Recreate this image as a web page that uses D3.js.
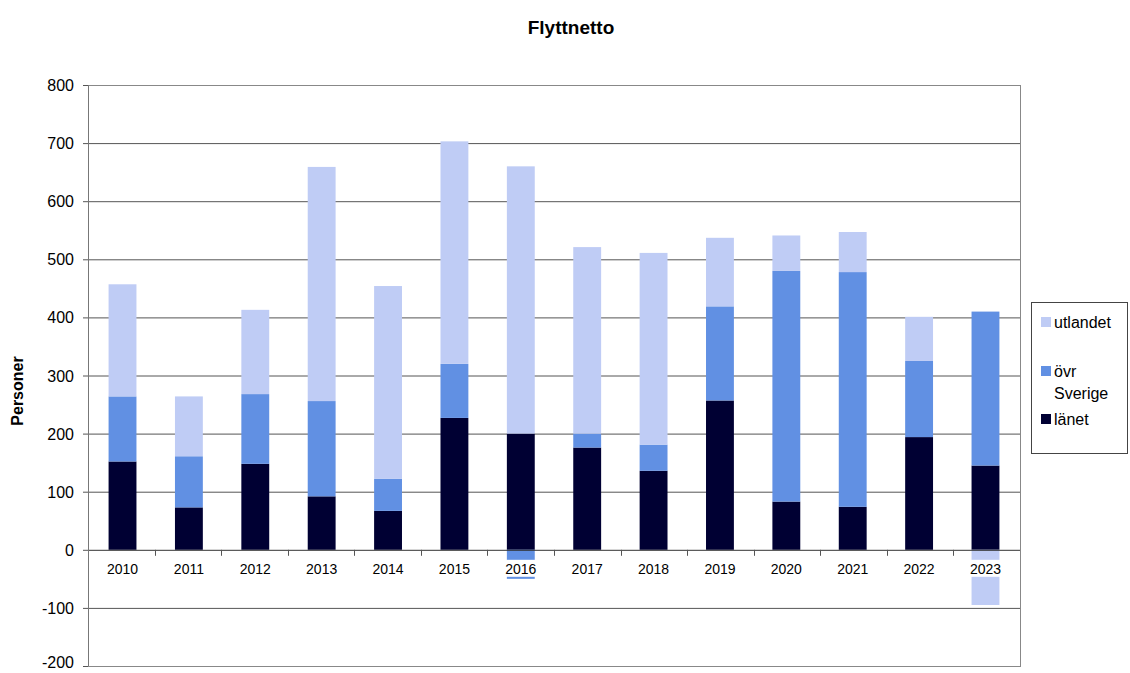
<!DOCTYPE html>
<html><head><meta charset="utf-8">
<script src="https://cdn.jsdelivr.net/npm/d3@7"></script>
<style>body{margin:0;background:#fff;} text{font-family:"Liberation Sans",Arial,sans-serif;}</style>
</head><body>
<svg id="c" width="1130" height="673"></svg>
<script>
const years = ["2010","2011","2012","2013","2014","2015","2016","2017","2018","2019","2020","2021","2022","2023"];
const lanet = [152, 73, 148, 92, 67, 227, 200, 176, 136, 257, 83, 74, 194, 145];
const ovrSverige = [112, 88, 120, 164, 55, 93, -50, 24, 45, 162, 397, 404, 131, 265];
const utlandet = [193, 103, 145, 403, 332, 383, 460, 321, 330, 118, 61, 69, 76, -95];
const yTicks = [-200, -100, 0, 100, 200, 300, 400, 500, 600, 700, 800];
const seriesNames = ["länet", "övr Sverige", "utlandet"];
const colors = {"länet":"#000033", "övr Sverige":"#6190E3", "utlandet":"#BFCCF5"};

const svg = d3.select("#c");
const L = 88, R = 1020, T = 85, B = 666;
const x = d3.scaleBand().domain(years).range([L, R]).paddingInner(0.58).paddingOuter(0.31);
const y = d3.scaleLinear().domain([-200, 800]).range([B, T]);

// gridlines
svg.append("g").selectAll("line").data(yTicks.filter(t => t !== -200 && t !== 0)).join("line")
  .attr("x1", L).attr("x2", R).attr("y1", d => y(d) + 0.5).attr("y2", d => y(d) + 0.5)
  .attr("stroke", "#555").attr("stroke-width", 1);

// plot border
svg.append("rect").attr("x", L + 0.5).attr("y", y(800) + 0.5).attr("width", R - L).attr("height", B - y(800))
  .attr("fill", "none").attr("stroke", "#888").attr("stroke-width", 1);

// stacked data with pos/neg stacking
const data = years.map((yr, i) => ({year: yr, "länet": lanet[i], "övr Sverige": ovrSverige[i], "utlandet": utlandet[i]}));
const stack = d3.stack().keys(seriesNames).offset(d3.stackOffsetDiverging);
const stacked = stack(data);

svg.append("g").selectAll("g").data(stacked).join("g")
  .attr("fill", d => colors[d.key])
  .selectAll("rect").data(d => d).join("rect")
  .attr("x", d => x(d.data.year))
  .attr("width", x.bandwidth())
  .attr("y", d => y(Math.max(d[0], d[1])))
  .attr("height", d => Math.abs(y(d[0]) - y(d[1])));

// zero line
svg.append("line").attr("x1", L).attr("x2", R).attr("y1", y(0) + 0.5).attr("y2", y(0) + 0.5)
  .attr("stroke", "#333").attr("stroke-width", 1);

// x tick marks at boundaries
const bounds = d3.range(1, years.length).map(i => L + i * (R - L) / years.length);
svg.append("g").selectAll("line").data(bounds).join("line")
  .attr("x1", d => Math.round(d) + 0.5).attr("x2", d => Math.round(d) + 0.5)
  .attr("y1", y(0)).attr("y2", y(0) + 6).attr("stroke", "#555");

// x labels with white background
const xl = svg.append("g");
years.forEach(yr => {
  const cx = x(yr) + x.bandwidth() / 2;
  xl.append("rect").attr("x", cx - 19).attr("y", y(0) + 10).attr("width", 38).attr("height", 17).attr("fill", "#fff");
  xl.append("text").attr("x", cx).attr("y", y(0) + 24).attr("text-anchor", "middle")
    .attr("font-size", 14).attr("fill", "#000").text(yr);
});

// y axis
svg.append("line").attr("x1", L + 0.5).attr("x2", L + 0.5).attr("y1", T).attr("y2", B).attr("stroke", "#777");
const ya = svg.append("g");
ya.selectAll("line").data(yTicks).join("line")
  .attr("x1", L - 5).attr("x2", L).attr("y1", d => y(d) + 0.5).attr("y2", d => y(d) + 0.5).attr("stroke", "#555");
ya.selectAll("text").data(yTicks).join("text")
  .attr("x", L - 14).attr("y", d => Math.min(y(d) + 6, 668)).attr("text-anchor", "end")
  .attr("font-size", 16).attr("fill", "#000").text(d => d);

// title
svg.append("text").attr("x", 571).attr("y", 34).attr("text-anchor", "middle")
  .attr("font-size", 19).attr("font-weight", "bold").text("Flyttnetto");

// y label
svg.append("text").attr("transform", "translate(23,391) rotate(-90)").attr("text-anchor", "middle")
  .attr("font-size", 16).attr("font-weight", "bold").text("Personer");

// legend
const lg = svg.append("g");
lg.append("rect").attr("x", 1031.5).attr("y", 302.5).attr("width", 96).attr("height", 151)
  .attr("fill", "#fff").attr("stroke", "#444");
const legendItems = [
  {key: "utlandet", lines: ["utlandet"], y: 322},
  {key: "övr Sverige", lines: ["övr", "Sverige"], y: 371},
  {key: "länet", lines: ["länet"], y: 419}
];
legendItems.forEach(it => {
  lg.append("rect").attr("x", 1041).attr("y", it.y - 5).attr("width", 10).attr("height", 10).attr("fill", colors[it.key]);
  it.lines.forEach((ln, j) => {
    lg.append("text").attr("x", 1054).attr("y", it.y + 6 + j * 22).attr("font-size", 16).text(ln);
  });
});
</script>
</body></html>
